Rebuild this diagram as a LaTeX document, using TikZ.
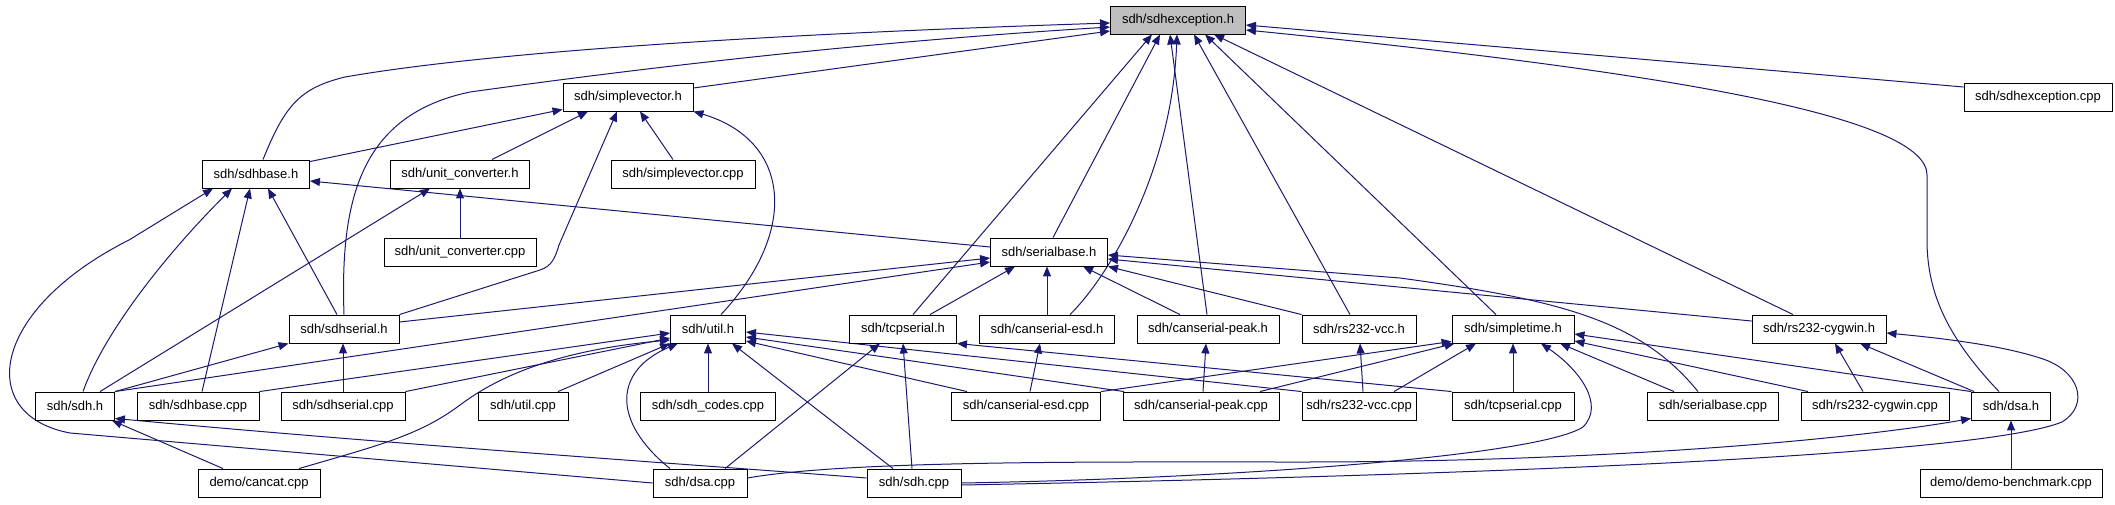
\documentclass[tikz,border=0pt]{standalone}
\usepackage{fontspec}
\setmainfont{Liberation Sans}
\usetikzlibrary{arrows.meta}
\definecolor{edgec}{HTML}{191970}
\definecolor{hl}{RGB}{191,191,191}
\pgfdeclarelayer{bg}
\pgfsetlayers{bg,main}
\begin{document}
\begin{tikzpicture}[x=1pt,y=-1pt,
  box/.style={draw=black, fill=white, line width=0.9pt, minimum height=28pt, inner xsep=3pt, inner ysep=0pt, font=\fontsize{13}{15}\selectfont},
  edge/.style={draw=edgec, line width=1pt, -{Triangle[length=10pt,width=8pt]}}]
\useasboundingbox (0,0) rectangle (2115,504);
% row 1
\node[box, fill=hl, minimum width=135pt] (exh) at (1178,20) {sdh/sdhexception.h};
% row 2
\node[box, minimum width=130pt] (svh) at (628,97) {sdh/simplevector.h};
\node[box, minimum width=148pt] (excpp) at (2038,97) {sdh/sdhexception.cpp};
% row 3
\node[box, minimum width=107pt] (sbh) at (256,174) {sdh/sdhbase.h};
\node[box, minimum width=139pt] (uch) at (460,174) {sdh/unit\_converter.h};
\node[box, minimum width=144pt] (svcpp) at (683,174) {sdh/simplevector.cpp};
% row 4
\node[box, minimum width=152pt] (uccpp) at (460,252) {sdh/unit\_converter.cpp};
\node[box, minimum width=117pt] (serh) at (1049,252) {sdh/serialbase.h};
% row 5
\node[box, minimum width=110pt] (sserh) at (344,329) {sdh/sdhserial.h};
\node[box, minimum width=75pt] (utilh) at (708,329) {sdh/util.h};
\node[box, minimum width=107pt] (tcph) at (903,329) {sdh/tcpserial.h};
\node[box, minimum width=135pt] (cesdh) at (1047,329) {sdh/canserial-esd.h};
\node[box, minimum width=142pt] (cpeakh) at (1208,329) {sdh/canserial-peak.h};
\node[box, minimum width=114pt] (vcch) at (1359,329) {sdh/rs232-vcc.h};
\node[box, minimum width=122pt] (timeh) at (1513,329) {sdh/simpletime.h};
\node[box, minimum width=134pt] (cygh) at (1819,329) {sdh/rs232-cygwin.h};
% row 6
\node[box, minimum width=79pt] (sdhh) at (75,406) {sdh/sdh.h};
\node[box, minimum width=122pt] (sbcpp) at (198,406) {sdh/sdhbase.cpp};
\node[box, minimum width=124pt] (sscpp) at (343,406) {sdh/sdhserial.cpp};
\node[box, minimum width=90pt] (utilcpp) at (523,406) {sdh/util.cpp};
\node[box, minimum width=135pt] (codes) at (708,406) {sdh/sdh\_codes.cpp};
\node[box, minimum width=149pt] (cesdcpp) at (1026,406) {sdh/canserial-esd.cpp};
\node[box, minimum width=156pt] (cpeakcpp) at (1201,406) {sdh/canserial-peak.cpp};
\node[box, minimum width=114pt] (vcccpp) at (1359,406) {sdh/rs232-vcc.cpp};
\node[box, minimum width=122pt] (tcpcpp) at (1513,406) {sdh/tcpserial.cpp};
\node[box, minimum width=131pt] (sercpp) at (1713,406) {sdh/serialbase.cpp};
\node[box, minimum width=148pt] (cygcpp) at (1875,406) {sdh/rs232-cygwin.cpp};
\node[box, minimum width=79pt] (dsah) at (2011,406) {sdh/dsa.h};
% row 7
\node[box, minimum width=122pt] (cancat) at (259,483) {demo/cancat.cpp};
\node[box, minimum width=94pt] (dsacpp) at (700,483) {sdh/dsa.cpp};
\node[box, minimum width=94pt] (sdhcpp) at (914,483) {sdh/sdh.cpp};
\node[box, minimum width=182pt] (bench) at (2011,483) {demo/demo-benchmark.cpp};

\begin{pgfonlayer}{bg}
% to sdhexception.h
\draw[edge] ([xshift=7pt]sbh.north) .. controls (285,105) and (300,88) .. (345,77) .. controls (500,50) and (800,33) .. ([yshift=-3pt]exh.west);
\draw[edge] (sserh.north) .. controls (340,200) and (360,115) .. (470,92) .. controls (700,60) and (900,40) .. ([yshift=-7pt]exh.west);
\draw[edge] ([yshift=9pt]svh.east) -- ([yshift=-11pt]exh.west);
\draw[edge] ([xshift=10pt]tcph.north) -- ([xshift=-26pt]exh.south);
\draw[edge] ([xshift=4pt]serh.north) -- ([xshift=-18pt]exh.south);
\draw[edge] ([xshift=23pt]cesdh.north) .. controls (1110,275) and (1172,170) .. ([xshift=-1pt]exh.south);
\draw[edge] ([xshift=-1pt]cpeakh.north) -- ([xshift=-8pt]exh.south);
\draw[edge] ([xshift=-9pt]vcch.north) -- ([xshift=16pt]exh.south);
\draw[edge] ([xshift=-17pt]timeh.north) -- ([xshift=27pt]exh.south);
\draw[edge] ([xshift=-26pt]cygh.north) -- ([xshift=36pt]exh.south);
\draw[edge] ([yshift=10pt]excpp.west) -- ([yshift=-5pt]exh.east);
\draw[edge] ([xshift=-12pt]dsah.north) .. controls (1945,335) and (1927,290) .. (1927,240) -- (1927,175) .. controls (1927,120) and (1700,75) .. ([yshift=-10pt]exh.east);
% to simplevector.h
\draw[edge] ([yshift=-2pt]sbh.north east) -- ([yshift=2pt]svh.south west);
\draw[edge] ([xshift=32pt]uch.north) -- ([xshift=-40pt]svh.south);
\draw[edge] ([xshift=-10pt]svcpp.north) -- ([xshift=12pt]svh.south);
\draw[edge] (sserh.north east) -- (540,270) .. controls (552,266) and (555,258) .. (559,245) -- ([xshift=-11pt]svh.south);
\draw[edge] ([xshift=13pt]utilh.north) .. controls (800,230) and (790,140) .. (svh.south east);
% to sdhbase.h
\draw[edge] (dsacpp.west) -- (70,433) .. controls (-25,415) and (-10,310) .. (129,240) -- ([xshift=-43pt]sbh.south);
\draw[edge] ([xshift=8pt]sdhh.north) .. controls (105,330) and (170,250) .. ([xshift=-24pt]sbh.south);
\draw[edge] ([xshift=4pt]sbcpp.north) -- ([xshift=-6pt]sbh.south);
\draw[edge] ([xshift=-7pt]sserh.north) -- ([xshift=12pt]sbh.south);
\draw[edge] ([yshift=5pt]serh.west) -- ([yshift=-7pt]sbh.east);
% to unit_converter.h
\draw[edge] (uccpp.north) -- (uch.south);
\draw[edge] ([xshift=25pt]sdhh.north) -- ([xshift=-30pt]uch.south);
% to serialbase.h
\draw[edge] ([yshift=7pt]sserh.east) -- ([yshift=-6pt]serh.west);
\draw[edge] (sdhh.north east) -- ([yshift=-10pt]serh.west);
\draw[edge] ([xshift=27pt]tcph.north) -- ([xshift=-34pt]serh.south);
\draw[edge] (cesdh.north) -- (cesdh.north |- serh.south);
\draw[edge] ([xshift=-28pt]cpeakh.north) -- ([xshift=34pt]serh.south);
\draw[edge] (vcch.north west) -- (serh.south east);
\draw[edge] ([yshift=8pt]cygh.west) -- ([yshift=-7pt]serh.east);
\draw[edge] ([xshift=-15pt]sercpp.north) .. controls (1640,320) and (1560,300) .. (1400,278) -- ([yshift=-3pt]serh.east);
% to sdhserial.h
\draw[edge] (sdhh.north east) -- (sserh.south west);
\draw[edge] (sscpp.north) -- (sscpp.north |- sserh.south);
% to util.h
\draw[edge] (sbcpp.north east) -- ([yshift=-4pt]utilh.west);
\draw[edge] (sscpp.north east) -- ([yshift=-9pt]utilh.west);
\draw[edge] ([xshift=35pt]utilcpp.north) -- (utilh.south west);
\draw[edge] ([xshift=40pt]cancat.north) .. controls (380,445) and (420,435) .. (460,405) .. controls (500,375) and (560,350) .. ([yshift=-11pt]utilh.west);
\draw[edge] ([xshift=-30pt]dsacpp.north) .. controls (610,420) and (615,370) .. ([xshift=-30pt]utilh.south);
\draw[edge] (codes.north) -- (utilh.south);
\draw[edge] ([xshift=-21pt]sdhcpp.north) -- ([xshift=24pt]utilh.south);
\draw[edge] ([xshift=-59pt]cesdcpp.north) -- ([yshift=-12pt]utilh.east);
\draw[edge] ([xshift=-77pt]cpeakcpp.north) -- ([yshift=-8pt]utilh.east);
\draw[edge] (vcccpp.north west) -- ([yshift=-3pt]utilh.east);
% to tcpserial.h
\draw[edge] ([xshift=25pt]dsacpp.north) -- ([xshift=-23pt]tcph.south);
\draw[edge] ([xshift=-2pt]sdhcpp.north) -- (tcph.south);
\draw[edge] (tcpcpp.north west) -- (tcph.south east);
% single
\draw[edge] ([xshift=4pt]cesdcpp.north) -- ([xshift=-7pt]cesdh.south);
\draw[edge] ([xshift=2pt]cpeakcpp.north) -- ([xshift=-2pt]cpeakh.south);
\draw[edge] ([xshift=4pt]vcccpp.north) -- ([xshift=1pt]vcch.south);
% to simpletime.h
\draw[edge] (cesdcpp.north east) -- ([yshift=2pt]timeh.south west);
\draw[edge] ([xshift=59pt]cpeakcpp.north) -- ([xshift=3pt]timeh.south west);
\draw[edge] ([xshift=35pt]vcccpp.north) -- ([xshift=-37pt]timeh.south);
\draw[edge] (tcpcpp.north) -- (timeh.south);
\draw[edge] (sdhcpp.east) .. controls (1250,478) and (1540,455) .. (1583,427) .. controls (1605,405) and (1580,370) .. ([xshift=28pt]timeh.south);
\draw[edge] ([xshift=-39pt]sercpp.north) -- ([xshift=47pt]timeh.south);
\draw[edge] ([xshift=-67pt]cygcpp.north) -- ([yshift=-12pt]timeh.east);
\draw[edge] (dsah.north west) -- ([yshift=-5pt]timeh.east);
% to rs232-cygwin.h
\draw[edge] ([xshift=-12pt]cygcpp.north) -- ([xshift=16pt]cygh.south);
\draw[edge] ([xshift=3pt]dsah.north west) -- ([xshift=41pt]cygh.south);
\draw[edge] ([yshift=-2pt]sdhcpp.east) .. controls (1500,475) and (1980,455) .. (2062,422) .. controls (2090,405) and (2080,370) .. (2040,358) .. controls (2000,345) and (1940,338) .. ([yshift=-4pt]cygh.east);
% to sdh.h
\draw[edge] ([xshift=-36pt]cancat.north) -- ([xshift=-3pt]sdhh.south east);
\draw[edge] ([yshift=5pt]sdhcpp.west) .. controls (700,465) and (400,445) .. ([yshift=2pt]sdhh.south east);
% to dsa.h
\draw[edge] ([yshift=5pt]dsacpp.east) .. controls (850,460) and (1100,462) .. (1300,462) .. controls (1600,462) and (1850,440) .. ([yshift=2pt]dsah.south west);
\draw[edge] (bench.north) -- (dsah.south);
\end{pgfonlayer}
\end{tikzpicture}
\end{document}
